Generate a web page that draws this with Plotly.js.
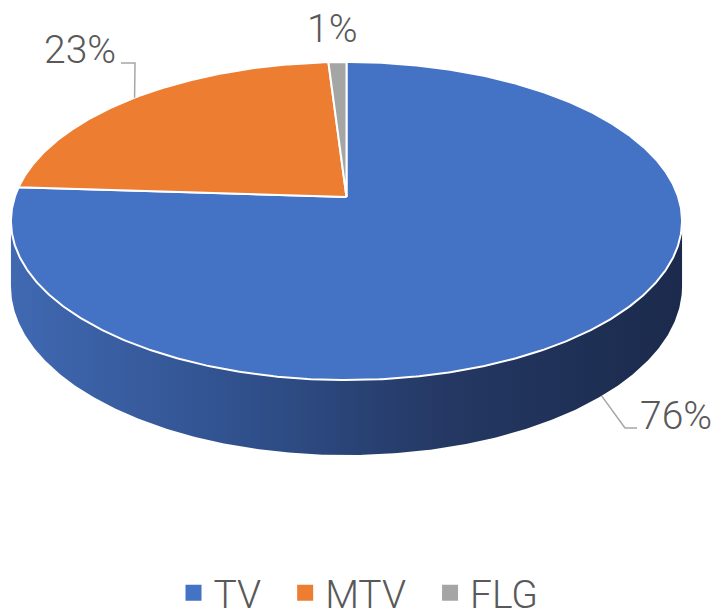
<!DOCTYPE html>
<html><head><meta charset="utf-8">
<script src="https://cdn.plot.ly/plotly-3.0.1.min.js"></script>
<style>html,body{margin:0;padding:0;background:#fff}</style>
</head><body>
<div id="chart" style="width:717px;height:615px"></div>
<script>
// ---- data ----
const labels = ['TV', 'MTV', 'FLG'];
const values = [76, 23, 1];
const colors = ['#4472C4', '#ED7D31', '#A5A5A5'];

// ---- 3D projection of a tilted disc ----
const CX = 346.5, CY = 197, A = 331.7, B = 155.4, P = 0.151, H = 63.7;
function proj(thDeg, r, depth) {
  const t = thDeg * Math.PI / 180;
  const X = r * Math.sin(t), Z = r * Math.cos(t);
  const d = 1 / (1 + P * Z);
  return [CX + A * X * d, CY - B * Z * d + depth * H * d];
}
function arc(a0, a1, depth) {
  const pts = [];
  const n = Math.max(2, Math.ceil(Math.abs(a1 - a0) / 0.5));
  for (let i = 0; i <= n; i++) pts.push(proj(a0 + (a1 - a0) * i / n, 1, depth));
  return pts;
}

const total = values.reduce((s, v) => s + v, 0);
const starts = [], ends = [];
let acc = 0;
values.forEach(v => { starts.push(acc / total * 360); acc += v; ends.push(acc / total * 360); });

const traces = [];
// visible side wall (front half)
const th1 = Math.acos(-P) * 180 / Math.PI, th2 = 360 - th1;
const sideScales = [
  [[0, '#4069B2'], [0.35, '#30508C'], [0.65, '#243863'], [1, '#1B2A4C']],
  [[0, '#B05A20'], [1, '#7A3D14']],
  [[0, '#7F7F7F'], [1, '#5A5A5A']]
];
values.forEach((v, i) => {
  const s = Math.max(starts[i], th1), e = Math.min(ends[i], th2);
  if (e <= s) return;
  const top = arc(s, e, 0), bot = arc(e, s, 1);
  const pts = top.concat(bot);
  pts.push(pts[0]);
  traces.push({
    type: 'scatter', mode: 'lines', x: pts.map(p => p[0]), y: pts.map(p => p[1]),
    fill: 'toself', fillgradient: {type: 'horizontal', colorscale: sideScales[i]},
    line: {width: 0, color: 'rgba(0,0,0,0)'}, hoverinfo: 'skip', showlegend: false
  });
});
// top face slices
values.forEach((v, i) => {
  const pts = [[CX, CY]].concat(arc(starts[i], ends[i], 0));
  pts.push([CX, CY]);
  traces.push({
    type: 'scatter', mode: 'lines', x: pts.map(p => p[0]), y: pts.map(p => p[1]),
    fill: 'toself', fillcolor: colors[i], line: {width: 2, color: '#FFFFFF'},
    hoverinfo: 'skip', showlegend: false
  });
});
// legend entries (non-breaking spaces widen the gap between entries)
labels.forEach((l, i) => {
  traces.push({
    type: 'scatter', mode: 'markers', x: [null], y: [null],
    name: i < labels.length - 1 ? l + '\u00A0\u00A0' : l,
    marker: {symbol: 'square', size: 18, color: colors[i]}, showlegend: true
  });
});

const FONT = 'Roboto, "Liberation Sans", sans-serif';
const pct = values.map(v => Math.round(v / total * 100) + '%');
const mids = values.map((v, i) => (starts[i] + ends[i]) / 2);

const m0 = proj(mids[0], 1, 1), m1 = proj(mids[1], 1, 0);
const lineStyle = {color: '#A6A6A6', width: 1.5};
const shapes = [
  {type: 'path', xref: 'x', yref: 'y', path: `M${m0[0]},${m0[1]} L625,428 L637,428`, line: lineStyle},
  {type: 'path', xref: 'x', yref: 'y', path: `M${m1[0]},${m1[1]} L135,63 L121,63`, line: lineStyle}
];
const annFont = {family: FONT, size: 39, color: '#595959', weight: 300};
const annotations = [
  {x: 676, y: 416, text: pct[0], showarrow: false, font: annFont, xanchor: 'center', yanchor: 'middle'},
  {x: 80, y: 50, text: pct[1], showarrow: false, font: annFont, xanchor: 'center', yanchor: 'middle'},
  {x: 332, y: 29, text: pct[2], showarrow: false, font: annFont, xanchor: 'center', yanchor: 'middle'}
];

const layout = {
  width: 717, height: 615,
  margin: {l: 0, r: 0, t: 0, b: 0, autoexpand: false},
  paper_bgcolor: '#FFFFFF', plot_bgcolor: '#FFFFFF',
  xaxis: {range: [0, 717], visible: false, fixedrange: true},
  yaxis: {range: [615, 0], visible: false, fixedrange: true},
  showlegend: true,
  legend: {orientation: 'h', x: 0.5, xanchor: 'center', y: 1 - 593 / 615, yanchor: 'middle',
           font: {family: FONT, size: 39, color: '#595959', weight: 300}, bgcolor: 'rgba(0,0,0,0)'},
  shapes: shapes,
  annotations: annotations
};
Plotly.newPlot('chart', traces, layout, {displayModeBar: false, staticPlot: true});
</script>
</body></html>
